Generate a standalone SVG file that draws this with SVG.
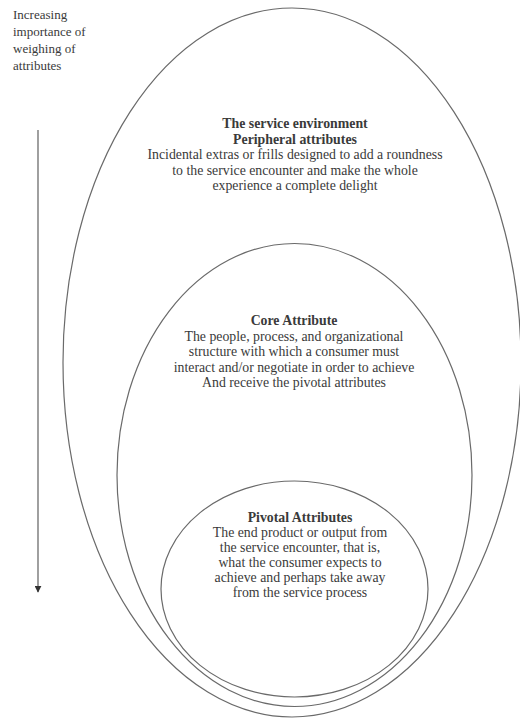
<svg xmlns="http://www.w3.org/2000/svg" width="520" height="718" viewBox="0 0 520 718">
  <style>
    .ring { fill: none; stroke: #6a6a6a; stroke-width: 1.2; }
    .txt { font-family: "Liberation Serif", "Times New Roman", serif; font-size: 13.8px; fill: #3a3a3a; text-anchor: middle; }
    .head { font-weight: bold; }
    .side { font-family: "Liberation Serif", "Times New Roman", serif; font-size: 13px; fill: #3a3a3a; }
    .axis { stroke: #777; stroke-width: 1.4; fill: none; }
  </style>
  <defs>
    <marker id="arrowDown" viewBox="0 0 10 10" refX="9" refY="5" markerWidth="7" markerHeight="7" orient="auto" markerUnits="userSpaceOnUse">
      <path d="M0,0 L10,5 L0,10 z" fill="#333"/>
    </marker>
  </defs>

  <rect width="520" height="718" fill="#fff"/>

  <!-- axis caption -->
  <g id="axis-label">
    <text class="side" x="13" y="19">Increasing</text>
    <text class="side" x="13" y="36">importance of</text>
    <text class="side" x="13" y="53">weighing of</text>
    <text class="side" x="13" y="70">attributes</text>
  </g>

  <!-- connectors -->
  <g id="connectors">
    <line class="axis" x1="38" y1="130" x2="38" y2="592" marker-end="url(#arrowDown)"/>
  </g>

  <!-- outer ring: service environment -->
  <g id="peripheral">
    <ellipse class="ring" cx="292" cy="362.5" rx="229" ry="354.5"/>
    <text class="txt head" x="295" y="128">The service environment</text>
    <text class="txt head" x="295" y="143.5">Peripheral attributes</text>
    <text class="txt" x="295" y="159">Incidental extras or frills designed to add a roundness</text>
    <text class="txt" x="295" y="174.5">to the service encounter and make the whole</text>
    <text class="txt" x="295" y="190">experience a complete delight</text>
  </g>

  <!-- middle ring: core attribute -->
  <g id="core">
    <ellipse class="ring" cx="294.5" cy="475" rx="177.5" ry="231.5"/>
    <text class="txt head" x="294" y="325">Core Attribute</text>
    <text class="txt" x="294" y="340.5">The people, process, and organizational</text>
    <text class="txt" x="294" y="356">structure with which a consumer must</text>
    <text class="txt" x="294" y="371.5">interact and/or negotiate in order to achieve</text>
    <text class="txt" x="294" y="387">And receive the pivotal attributes</text>
  </g>

  <!-- inner ring: pivotal attributes -->
  <g id="pivotal">
    <ellipse class="ring" cx="294.5" cy="589" rx="133.5" ry="108"/>
    <text class="txt head" x="300" y="521.5">Pivotal Attributes</text>
    <text class="txt" x="300" y="537">The end product or output from</text>
    <text class="txt" x="300" y="552">the service encounter, that is,</text>
    <text class="txt" x="300" y="567">what the consumer expects to</text>
    <text class="txt" x="300" y="582">achieve and perhaps take away</text>
    <text class="txt" x="300" y="597">from the service process</text>
  </g>
</svg>
